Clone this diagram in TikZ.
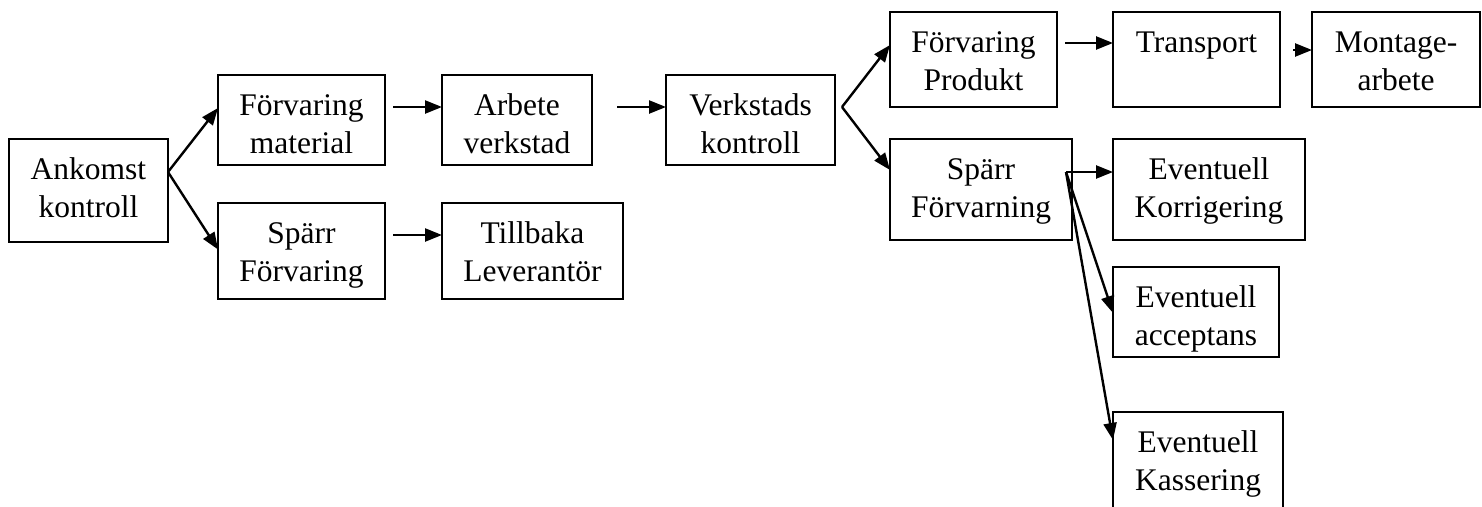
\documentclass[tikz,border=0pt]{standalone}
\usepackage{fontspec}
\setmainfont{Liberation Serif}
\usetikzlibrary{arrows.meta,calc}

\tikzset{
  procbox/.style={draw, line width=1.8pt, inner sep=0pt, outer sep=0pt, anchor=north west},
  boxtext/.style={font=\fontsize{31.5}{38}\selectfont, align=center, inner sep=0pt, anchor=north},
  flow/.style={line width=2.4pt, -{Triangle[length=17pt,width=13pt]}},
}

% #1 name, #2 left, #3 top, #4 right, #5 bottom, #6 text
\newcommand\stepnode[6]{%
  \pgfmathsetmacro\bw{#4-#2}%
  \pgfmathsetmacro\bh{#5-#3}%
  \node[procbox, minimum width=\bw pt, minimum height=\bh pt] (#1) at (#2,#3) {};
  \node[boxtext] (#1-t) at ([yshift=-10pt]#1.north) {\rule{0pt}{30pt}#6};
}

\begin{document}
\begin{tikzpicture}[x=1pt, y=-1pt]
\clip (0,0) rectangle (1482,506);

% incoming material
\stepnode{ank}{9}{139}{168}{242}{Ankomst\\kontroll}
\stepnode{fm}{218}{75}{385}{165}{Förvaring\\material}
\stepnode{sf}{218}{203}{385}{299}{Spärr\\Förvaring}
\stepnode{arb}{442}{75}{592}{165}{Arbete\\verkstad}
\stepnode{till}{442}{203}{623}{299}{Tillbaka\\Leverantör}
\stepnode{vk}{666}{75}{835}{165}{Verkstads\\kontroll}

% finished product
\stepnode{fp}{890}{12}{1057}{107}{Förvaring\\Produkt}
\stepnode{spf}{890}{139}{1072}{240}{Spärr\\Förvarning}
\stepnode{tr}{1113}{12}{1280}{107}{Transport}
\stepnode{mo}{1312}{12}{1480}{107}{Montage-\\arbete}
\stepnode{kor}{1113}{139}{1305}{240}{Eventuell\\Korrigering}
\stepnode{acc}{1113}{267}{1279}{357}{Eventuell\\acceptans}
\stepnode{kas}{1113}{412}{1283}{545}{Eventuell\\Kassering}

% branch points
\coordinate (ankfork) at ([yshift=18.5pt]ank.east);
\coordinate (vkfork) at ([xshift=7pt,yshift=13pt]vk.east);
\coordinate (spffork) at ([xshift=-6pt,yshift=17.5pt]spf.east);

\draw[flow] (ankfork) -- ([yshift=12pt]fm.west);
\draw[flow] (ankfork) -- ([yshift=1.5pt]sf.west);
\draw[flow] ([xshift=8pt,yshift=13pt]fm.east) -- ([yshift=13pt]arb.west);
\draw[flow] ([xshift=8pt,yshift=16pt]sf.east) -- ([yshift=16pt]till.west);
\draw[flow] ([xshift=25pt,yshift=13pt]arb.east) -- ([yshift=13pt]vk.west);

\draw[flow] (vkfork) -- ([yshift=14.5pt]fp.west);
\draw[flow] (vkfork) -- ([yshift=19.5pt]spf.west);
\draw[flow] ([xshift=8pt,yshift=16.5pt]fp.east) -- ([yshift=16.5pt]tr.west);
\draw[flow] ([xshift=13pt,yshift=9.5pt]tr.east) -- ([yshift=9.5pt]mo.west);

\draw[flow] (spffork) -- ([yshift=17.5pt]kor.west);
\draw[flow] (spffork) -- ([yshift=-1pt]acc.west);
\draw[flow] (spffork) -- ([yshift=-28pt]kas.north west);
\end{tikzpicture}
\end{document}
